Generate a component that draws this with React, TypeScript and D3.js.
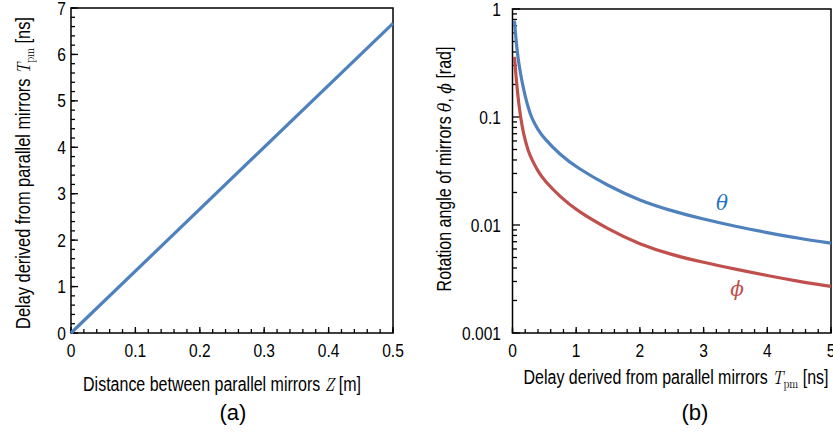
import React from 'react';
import * as d3 from 'd3';

// (a) delay vs mirror distance
const distZ = [0, 0.5];
const delayT = [0, 6.67];

// (b) rotation angles vs delay
const delayPts = [0.03, 0.05, 0.075, 0.1, 0.15, 0.2, 0.25, 0.3, 0.4, 0.5, 0.75, 1, 1.5, 2, 2.5, 3, 3.5, 4, 4.5, 5];
const thetaVals = [0.78, 0.56, 0.4, 0.31, 0.21, 0.155, 0.12, 0.098, 0.076, 0.063, 0.0445, 0.0343, 0.023, 0.0168, 0.0135, 0.0113, 0.0097, 0.0085, 0.0075, 0.0068];
const phiVals = [0.36, 0.26, 0.179, 0.129, 0.0813, 0.0602, 0.048, 0.0408, 0.0314, 0.0258, 0.0182, 0.0137, 0.00914, 0.0066, 0.0053, 0.0045, 0.0039, 0.0034, 0.003, 0.0027];

const leftXTicks = [0, 0.1, 0.2, 0.3, 0.4, 0.5];
const leftYTicks = [0, 1, 2, 3, 4, 5, 6, 7];
const rightXTicks = [0, 1, 2, 3, 4, 5];
const rightYTicks = [1, 0.1, 0.01, 0.001];

const BLUE = '#4f81bd';
const RED = '#c0504d';
const FONT = '"Liberation Sans", Arial, sans-serif';
const SERIF = '"Latin Modern Roman", "DejaVu Serif", "Liberation Serif", serif';
const SX = 0.82; // narrow look of the original sans font

// sans text squeezed horizontally, optionally rotated
const NText = ({ x, y, rot = 0, size = 19, anchor = 'middle', children }: any) => (
  <text
    transform={`translate(${x},${y}) rotate(${rot}) scale(${SX},1)`}
    textAnchor={anchor}
    fontFamily={FONT}
    fontSize={size}
  >
    {children}
  </text>
);

const App = () => {
  // panel (a)
  const xa = d3.scaleLinear().domain([0, 0.5]).range([71, 393]);
  const ya = d3.scaleLinear().domain([0, 7]).range([333, 8]);
  // panel (b)
  const xb = d3.scaleLinear().domain([0, 5]).range([512.5, 831]);
  const yb = d3.scaleLog().domain([0.001, 1]).range([333, 9]);

  const lineA = d3.line<number>().x(d => xa(d)).y((d, i) => ya(delayT[i]));
  const lineTheta = d3.line<number>().x(d => xb(d)).y((d, i) => yb(thetaVals[i])).curve(d3.curveBasis);
  const linePhi = d3.line<number>().x(d => xb(d)).y((d, i) => yb(phiVals[i])).curve(d3.curveBasis);

  const minorXa = d3.range(0, 0.5001, 0.02);
  const minorYa = d3.range(0, 7.0001, 0.2);
  const minorXb = d3.range(0, 5.0001, 0.2);
  const minorYb: number[] = [];
  [0.001, 0.01, 0.1].forEach(dec => {
    for (let k = 2; k <= 9; k++) minorYb.push(dec * k);
  });

  const tick = { stroke: '#000', strokeWidth: 1.3 };

  const tpm = (
    <>
      <tspan fontFamily={SERIF} fontStyle="italic" fontSize={19}>T</tspan>
      <tspan fontFamily={SERIF} fontSize={13} dy={4}>pm</tspan>
      <tspan dy={-4}> [ns]</tspan>
    </>
  );

  return (
    <svg width={833} height={436} style={{ position: 'absolute', left: 0, top: 0, background: '#fff' }}>
      {/* ---------- panel (a) ---------- */}
      <rect x={71} y={8} width={322} height={325} fill="none" stroke="#000" strokeWidth={1.5} />
      {minorXa.map((v, i) => (
        <line key={'mxa' + i} x1={xa(v)} x2={xa(v)} y1={333} y2={329} {...tick} />
      ))}
      {leftXTicks.map(v => (
        <line key={'xa' + v} x1={xa(v)} x2={xa(v)} y1={333} y2={327} {...tick} />
      ))}
      {minorYa.map((v, i) => (
        <line key={'mya' + i} x1={71} x2={75} y1={ya(v)} y2={ya(v)} {...tick} />
      ))}
      {leftYTicks.map(v => (
        <line key={'ya' + v} x1={71} x2={78} y1={ya(v)} y2={ya(v)} {...tick} />
      ))}
      {leftXTicks.map(v => (
        <NText key={'xal' + v} x={xa(v)} y={357}>{v === 0 ? '0' : v.toFixed(1)}</NText>
      ))}
      {leftYTicks.map(v => (
        <NText key={'yal' + v} x={66} y={ya(v) + 6.5} anchor="end">{v}</NText>
      ))}
      <path d={lineA(distZ) || ''} fill="none" stroke={BLUE} strokeWidth={3.2} />
      <NText x={222} y={391} size={19.5}>
        Distance between parallel mirrors <tspan fontFamily={SERIF} fontStyle="italic" fontSize={19}>Z</tspan> [m]
      </NText>
      <text x={233} y={420} textAnchor="middle" fontFamily={FONT} fontSize={22}>(a)</text>
      <NText x={30} y={173} rot={-90} size={20}>
        Delay derived from parallel mirrors {tpm}
      </NText>

      {/* ---------- panel (b) ---------- */}
      <rect x={512.5} y={9} width={318.5} height={324} fill="none" stroke="#000" strokeWidth={1.5} />
      {minorXb.map((v, i) => (
        <line key={'mxb' + i} x1={xb(v)} x2={xb(v)} y1={333} y2={329} {...tick} />
      ))}
      {rightXTicks.map(v => (
        <line key={'xb' + v} x1={xb(v)} x2={xb(v)} y1={333} y2={327} {...tick} />
      ))}
      {minorYb.map((v, i) => (
        <line key={'myb' + i} x1={512.5} x2={517} y1={yb(v)} y2={yb(v)} {...tick} />
      ))}
      {rightYTicks.map(v => (
        <line key={'yb' + v} x1={512.5} x2={520} y1={yb(v)} y2={yb(v)} {...tick} />
      ))}
      {rightXTicks.map(v => (
        <NText key={'xbl' + v} x={xb(v)} y={357}>{v}</NText>
      ))}
      {rightYTicks.map(v => (
        <NText key={'ybl' + v} x={501} y={yb(v) + 6.5} anchor="end">{String(v)}</NText>
      ))}
      <path d={lineTheta(delayPts) || ''} fill="none" stroke={BLUE} strokeWidth={3.2} />
      <path d={linePhi(delayPts) || ''} fill="none" stroke={RED} strokeWidth={3.2} />
      <text x={722} y={210} textAnchor="middle" fontFamily={SERIF} fontStyle="italic" fontSize={20} fill="#1f72c4">θ</text>
      <text x={737} y={296} textAnchor="middle" fontFamily={SERIF} fontStyle="italic" fontSize={20} fill={RED}>ϕ</text>
      <NText x={676} y={384} size={19.5}>
        Delay derived from parallel mirrors {tpm}
      </NText>
      <text x={695} y={420} textAnchor="middle" fontFamily={FONT} fontSize={22}>(b)</text>
      <NText x={451} y={169} rot={-90} size={19.5}>
        Rotation angle of mirrors <tspan fontFamily={SERIF} fontStyle="italic" fontSize={19}>θ</tspan>, <tspan fontFamily={SERIF} fontStyle="italic" fontSize={19}>ϕ</tspan> [rad]
      </NText>
    </svg>
  );
};

export default App;
